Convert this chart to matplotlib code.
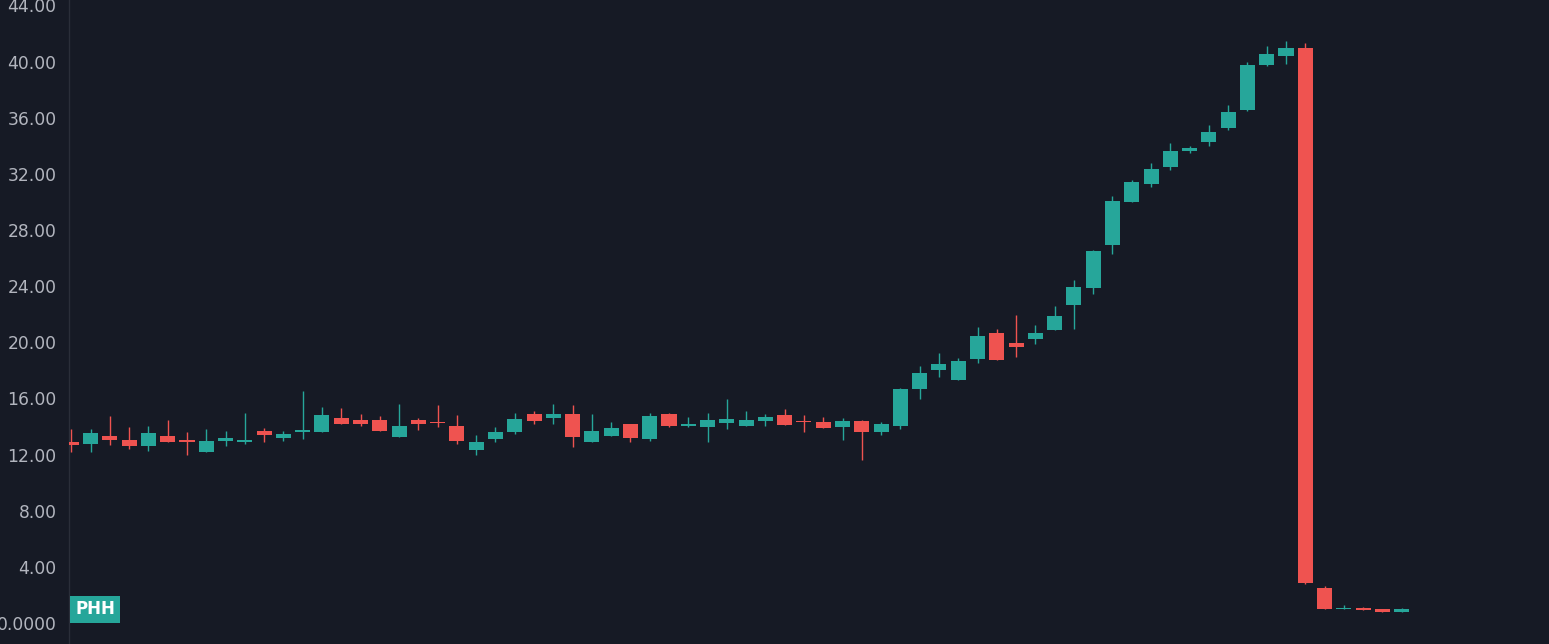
import numpy as np
import matplotlib
matplotlib.use("Agg")
import matplotlib.pyplot as plt
from matplotlib.patches import Rectangle

# ---- data ----
opens = [12.90, 12.78, 13.32, 13.04, 12.61, 13.32, 12.95, 12.21, 12.99, 12.93,
         13.68, 13.18, 13.64, 13.61, 14.61, 14.46, 14.46, 13.25, 14.46, 14.24,
         14.04, 12.33, 13.11, 13.61, 14.89, 14.61, 14.89, 12.90, 13.32, 14.18,
         13.11, 14.89, 14.07, 13.96, 14.25, 14.04, 14.39, 14.82, 14.31, 14.32,
         13.96, 14.39, 13.61, 14.04, 16.67, 18.03, 17.31, 18.81, 20.66, 19.95,
         20.23, 20.88, 22.66, 23.87, 26.93, 29.99, 31.28, 32.49, 33.63, 34.27,
         35.27, 36.55, 39.75, 40.40, 40.97, 2.49, 1.01, 1.07, 1.00, 0.78]
highs = [13.80, 13.80, 14.75, 13.96, 14.04, 14.46, 13.61, 13.82, 13.68, 14.96,
         13.89, 13.68, 16.53, 15.39, 15.32, 14.89, 14.75, 15.60, 14.61, 15.53,
         14.82, 13.39, 13.96, 14.96, 15.10, 15.60, 15.53, 14.89, 14.32, 14.18,
         14.96, 14.96, 14.68, 14.96, 15.96, 15.10, 14.89, 15.25, 14.82, 14.68,
         14.61, 14.46, 14.32, 16.74, 18.31, 19.24, 18.88, 21.09, 20.95, 21.94,
         21.23, 22.58, 24.44, 26.57, 30.42, 31.56, 32.77, 34.20, 33.98, 35.48,
         36.91, 39.97, 41.11, 41.46, 41.32, 2.64, 1.28, 1.14, 1.00, 1.07]
lows = [12.21, 12.21, 12.71, 12.40, 12.28, 12.88, 11.99, 12.21, 12.63, 12.78,
        12.92, 12.99, 13.11, 13.61, 14.18, 14.04, 13.68, 13.25, 13.75, 13.96,
        12.75, 11.97, 12.90, 13.47, 14.18, 14.18, 12.54, 12.90, 13.32, 12.90,
        12.97, 13.96, 13.96, 12.90, 13.82, 14.04, 14.04, 14.11, 13.61, 13.89,
        13.04, 11.61, 13.39, 13.82, 15.96, 17.53, 17.31, 18.52, 18.74, 18.95,
        19.88, 20.88, 20.95, 23.44, 26.29, 29.99, 31.06, 32.27, 33.49, 33.98,
        35.12, 36.48, 39.68, 39.83, 2.78, 1.00, 1.00, 0.93, 0.78, 0.78]
closes = [12.70, 13.54, 13.06, 12.61, 13.54, 12.90, 12.93, 12.97, 13.18, 12.95,
          13.39, 13.47, 13.68, 14.82, 14.18, 14.18, 13.68, 14.04, 14.18, 14.22,
          12.97, 12.90, 13.61, 14.53, 14.39, 14.89, 13.25, 13.68, 13.89, 13.18,
          14.75, 14.04, 14.14, 14.46, 14.53, 14.46, 14.68, 14.11, 14.29, 13.89,
          14.39, 13.61, 14.18, 16.67, 17.81, 18.45, 18.67, 20.45, 18.74, 19.66,
          20.66, 21.87, 23.94, 26.50, 30.07, 31.42, 32.35, 33.63, 33.84, 34.98,
          36.41, 39.75, 40.54, 40.97, 2.85, 1.00, 1.07, 0.93, 0.78, 1.00]
tick_values = [0, 4, 8, 12, 16, 20, 24, 28, 32, 36, 40, 44]
tick_labels = ["0.0000", "4.00", "8.00", "12.00", "16.00", "20.00", "24.00",
               "28.00", "32.00", "36.00", "40.00", "44.00"]
symbol = "PHH"

# ---- style ----
BG = "#161a25"
UP = "#26a69a"
DOWN = "#ef5350"
TXT = "#b2b5be"

W, H = 1549, 644
fig = plt.figure(figsize=(W / 100, H / 100), dpi=100, facecolor=BG)
ax_left = 69 / W
ax = fig.add_axes([ax_left, 0, 1 - ax_left, 1], facecolor=BG)

o = np.array(opens); h = np.array(highs); l = np.array(lows); c = np.array(closes)
x = np.arange(len(o))
up = c >= o
colors = np.where(up, UP, DOWN)

bottoms = np.minimum(o, c)
heights = np.maximum(np.abs(c - o), 0.09)

ax.vlines(x, l, h, colors=colors, linewidth=1.0, zorder=2)
ax.bar(x, heights, bottom=bottoms, width=0.78, color=colors, linewidth=0, zorder=3)

ax.set_xlim(-0.119, 76.64)
ax.set_ylim(-1.496, 44.386)
ax.set_xticks([])
ax.set_yticks(tick_values)
ax.set_yticklabels(tick_labels)
ax.tick_params(axis="y", length=0, pad=9, labelsize=12.3, labelcolor=TXT)
for s in ["top", "right", "bottom"]:
    ax.spines[s].set_visible(False)
ax.spines["left"].set_color("#2a2e39")
ax.spines["left"].set_linewidth(1.0)

# symbol badge
fig.patches.append(Rectangle((70 / W, (H - 623) / H), 50 / W, 27 / H,
                             transform=fig.transFigure, facecolor=UP,
                             edgecolor="none", zorder=10))
fig.text(95 / W, (H - 609.5) / H, symbol, color="white", fontsize=12,
         fontweight="bold", ha="center", va="center", zorder=11)

fig.savefig("out.png", dpi=100, facecolor=BG)
